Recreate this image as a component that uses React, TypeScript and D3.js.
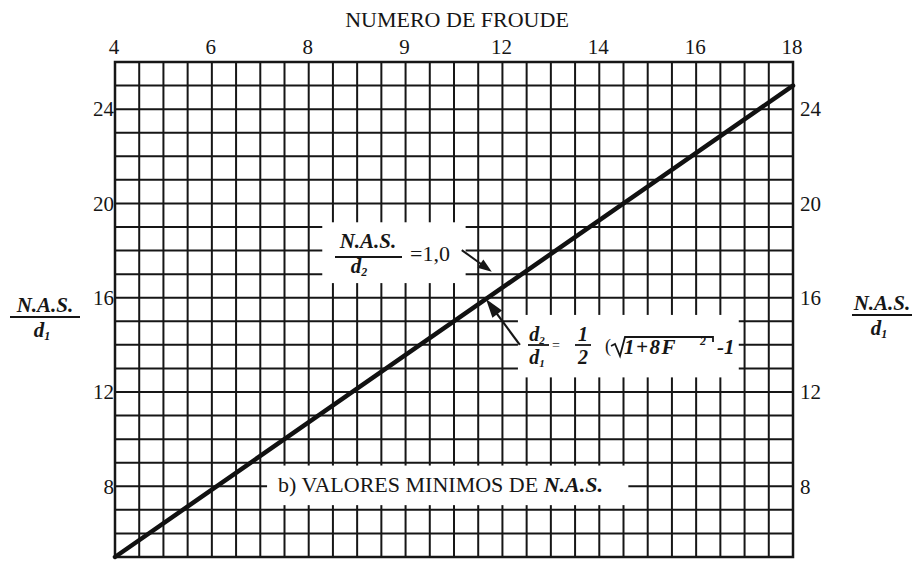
import React from "react";
import * as d3 from "d3";

// ---- data ----
const froudeLabels = ["4", "6", "8", "9", "12", "14", "16", "18"];
const minorPerInterval = 4;
const yTicks = [8, 12, 16, 20, 24];
const yDomain = [5, 26];
// straight line, read at its two ends (Froude label, N.A.S./d1)
const lineFroude = ["4", "18"];
const lineNAS = [5, 25];

const W = 917;
const H = 561;
const SERIF = "Liberation Serif, Tinos, Times New Roman, Times, DejaVu Serif, Noto Serif, serif";
const INK = "#161616";

function arrow(x1: number, y1: number, x2: number, y2: number, len: number, half: number) {
  const dx = x2 - x1, dy = y2 - y1;
  const L = Math.hypot(dx, dy);
  const ux = dx / L, uy = dy / L;
  const bx = x2 - ux * len, by = y2 - uy * len;
  const px = -uy * half, py = ux * half;
  return {
    shaft: [x1, y1, bx + ux * 2, by + uy * 2],
    head: `${x2},${y2} ${bx + px},${by + py} ${bx - px},${by - py}`,
  };
}

export default function App() {
  const x = d3.scaleLinear().domain([0, froudeLabels.length - 1]).range([115, 793]);
  const y = d3.scaleLinear().domain(yDomain).range([557, 62]);

  const nCols = (froudeLabels.length - 1) * minorPerInterval;
  const vLines = d3.range(0, nCols + 1).map((i) => i / minorPerInterval);
  const hLines = d3.range(yDomain[0], yDomain[1] + 1);

  const pts: [number, number][] = lineFroude.map((f, i) => [x(froudeLabels.indexOf(f)), y(lineNAS[i])]);
  const linePath = d3.line()(pts) || "";

  // white label boxes (data units: Froude index, N.A.S./d1)
  const boxes = [
    { x0: 2.14, x1: 3.62, y0: 19.2, y1: 16.62 },
    { x0: 4.16, x1: 6.44, y0: 15.27, y1: 12.62 },
    { x0: 1.57, x1: 5.3, y0: 8.88, y1: 7.2 },
  ];

  const a1 = arrow(x(3.58), y(18.02), x(3.89), y(17.1), 14, 5);
  const a2 = arrow(x(4.18), y(14.0), x(3.83), y(15.95), 19, 6);

  const fs = 21;
  const serif = { fontFamily: SERIF };

  return (
    <svg width={W} height={H} style={{ position: "absolute", left: 0, top: 0, background: "#fff" }}>
      <rect x={0} y={0} width={W} height={H} fill="#fff" />
      {/* grid */}
      <g stroke={INK} strokeWidth={2}>
        {vLines.map((v) => (
          <line key={"v" + v} x1={x(v)} x2={x(v)} y1={y(yDomain[1])} y2={y(yDomain[0])} />
        ))}
        {hLines.map((h) => (
          <line key={"h" + h} x1={x(0)} x2={x(froudeLabels.length - 1)} y1={y(h)} y2={y(h)} />
        ))}
      </g>
      <rect x={x(0)} y={y(yDomain[1])} width={x(froudeLabels.length - 1) - x(0)} height={y(yDomain[0]) - y(yDomain[1])}
        fill="none" stroke={INK} strokeWidth={2.5} />

      {/* main line */}
      <path d={linePath} stroke="#111" strokeWidth={4.5} fill="none" strokeLinecap="round" />

      {/* label boxes */}
      {boxes.map((b, i) => (
        <rect key={i} x={x(b.x0)} y={y(b.y0)} width={x(b.x1) - x(b.x0)} height={y(b.y1) - y(b.y0)} fill="#fff" />
      ))}

      <g style={serif} fill={INK}>
        {/* top axis */}
        <text x={(x(0) + x(froudeLabels.length - 1)) / 2 + 3} y={27} textAnchor="middle" fontSize={22}>
          NUMERO DE FROUDE
        </text>
        {froudeLabels.map((l, i) => (
          <text key={l} x={x(i) - 1} y={54} textAnchor="middle" fontSize={fs}>
            {l}
          </text>
        ))}

        {/* left / right axes */}
        {yTicks.map((t) => (
          <g key={t}>
            <text x={x(0) - 1} y={y(t)} dy="0.35em" textAnchor="end" fontSize={fs}>{t}</text>
            <text x={x(froudeLabels.length - 1) + 7} y={y(t)} dy="0.35em" textAnchor="start" fontSize={fs}>{t}</text>
          </g>
        ))}

        {/* axis titles N.A.S./d1 */}
        {[{ cx: 45, base: 312, bw: 70 }, { cx: 882, base: 310, bw: 60 }].map((t, i) => (
          <g key={i} fontWeight="bold" fontStyle="italic">
            <text x={t.cx} y={t.base} textAnchor="middle" fontSize={21}>N.A.S.</text>
            <line x1={t.cx - t.bw / 2} x2={t.cx + t.bw / 2} y1={t.base + 5} y2={t.base + 5} stroke={INK} strokeWidth={2} />
            <text x={t.cx - 3} y={t.base + 25} textAnchor="middle" fontSize={21}>
              d<tspan fontSize={12} dy="3">1</tspan>
            </text>
          </g>
        ))}

        {/* annotation 1: N.A.S./d2 = 1,0 */}
        <text x={368} y={248} textAnchor="middle" fontSize={21} fontWeight="bold" fontStyle="italic">N.A.S.</text>
        <line x1={335} x2={402} y1={257} y2={257} stroke={INK} strokeWidth={2} />
        <text x={359} y={273} textAnchor="middle" fontSize={21} fontWeight="bold" fontStyle="italic">
          d<tspan fontSize={12} dy="3">2</tspan>
        </text>
        <text x={410} y={261} fontSize={22}>=1,0</text>

        {/* annotation 2: d2/d1 = 1/2 (sqrt(1+8F^2) - 1 */}
        <g fontWeight="bold" fontStyle="italic">
          <text x={537} y={341} textAnchor="middle" fontSize={20}>
            d<tspan fontSize={11} dy="3">2</tspan>
          </text>
          <line x1={528} x2={549} y1={345} y2={345} stroke={INK} strokeWidth={1.8} />
          <text x={537} y={364} textAnchor="middle" fontSize={20}>
            d<tspan fontSize={11} dy="3">1</tspan>
          </text>
          <text x={552} y={350} fontSize={14} fontWeight="normal" fontStyle="normal">=</text>
          <text x={583} y={341} textAnchor="middle" fontSize={20}>1</text>
          <line x1={575} x2={591} y1={345} y2={345} stroke={INK} strokeWidth={1.8} />
          <text x={583} y={364} textAnchor="middle" fontSize={20}>2</text>
          <text x={605} y={352} fontSize={18} fontWeight="normal" fontStyle="normal">(</text>
          <polyline points="611,346 615,344 620,356 625,337 713,337 713,342" fill="none" stroke={INK} strokeWidth={1.8} />
          <text x={624} y={354} fontSize={21} letterSpacing={1.5}>1+8F</text>
          <text x={700} y={345} fontSize={12}>2</text>
          <text x={717} y={354} fontSize={21}>-1</text>
        </g>

        {/* annotation 3 */}
        <text x={278} y={492} fontSize={22}>
          b) VALORES MINIMOS DE <tspan fontWeight="bold" fontStyle="italic">N.A.S.</tspan>
        </text>
      </g>

      <line x1={a1.shaft[0]} y1={a1.shaft[1]} x2={a1.shaft[2]} y2={a1.shaft[3]} stroke={INK} strokeWidth={2} />
      <polygon points={a1.head} fill={INK} />
      <line x1={a2.shaft[0]} y1={a2.shaft[1]} x2={a2.shaft[2]} y2={a2.shaft[3]} stroke={INK} strokeWidth={2.2} />
      <polygon points={a2.head} fill={INK} />
    </svg>
  );
}
